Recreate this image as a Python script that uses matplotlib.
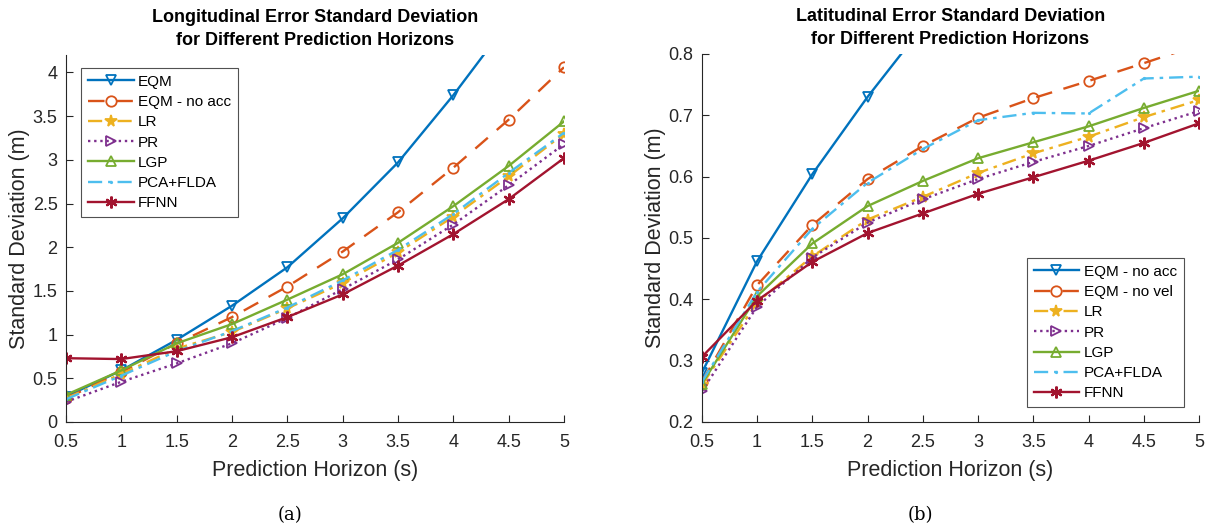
import matplotlib
matplotlib.use("Agg")
import matplotlib.pyplot as plt

horizons = [0.5, 1, 1.5, 2, 2.5, 3, 3.5, 4, 4.5, 5]

# Longitudinal (a)
lon_labels = ["EQM", "EQM - no acc", "LR", "PR", "LGP", "PCA+FLDA", "FFNN"]
lon_eqm = [0.29, 0.59, 0.94, 1.33, 1.77, 2.33, 2.97, 3.74, 4.58, 5.55]
lon_eqm_noacc = [0.27, 0.57, 0.90, 1.20, 1.55, 1.95, 2.40, 2.91, 3.46, 4.06]
lon_lr = [0.27, 0.55, 0.84, 1.03, 1.30, 1.59, 1.94, 2.35, 2.81, 3.30]
lon_pr = [0.23, 0.46, 0.67, 0.90, 1.19, 1.52, 1.86, 2.26, 2.71, 3.18]
lon_lgp = [0.31, 0.59, 0.90, 1.12, 1.40, 1.69, 2.05, 2.47, 2.93, 3.44]
lon_pca = [0.26, 0.53, 0.81, 1.04, 1.31, 1.62, 1.97, 2.38, 2.85, 3.31]
lon_ffnn = [0.73, 0.72, 0.81, 0.97, 1.20, 1.46, 1.79, 2.15, 2.55, 3.02]

# Latitudinal (b)
lat_labels = ["EQM - no acc", "EQM - no vel", "LR", "PR", "LGP", "PCA+FLDA", "FFNN"]
lat_eqm_noacc = [0.280, 0.462, 0.604, 0.730, 0.845, 0.96, 1.07, 1.18, 1.29, 1.40]
lat_eqm_novel = [0.265, 0.423, 0.521, 0.596, 0.650, 0.696, 0.728, 0.756, 0.785, 0.815]
lat_lr = [0.260, 0.395, 0.470, 0.530, 0.567, 0.606, 0.638, 0.665, 0.697, 0.725]
lat_pr = [0.250, 0.388, 0.468, 0.525, 0.563, 0.596, 0.624, 0.650, 0.679, 0.707]
lat_lgp = [0.262, 0.405, 0.491, 0.552, 0.593, 0.630, 0.656, 0.682, 0.712, 0.740]
lat_pca = [0.265, 0.412, 0.515, 0.590, 0.645, 0.692, 0.704, 0.703, 0.760, 0.763]
lat_ffnn = [0.306, 0.398, 0.461, 0.508, 0.540, 0.572, 0.599, 0.626, 0.655, 0.687]

colors = ["#0072BD", "#D95319", "#EDB120", "#7E2F8E", "#77AC30", "#4DBEEE", "#A2142F"]
styles = [
    dict(ls="-", marker="v", mfc="none", ms=7.5),
    dict(ls=(0, (7, 5)), marker="o", mfc="none", ms=7.5),
    dict(ls=(0, (6, 2.5, 1.5, 2.5)), marker="*", ms=8.5),
    dict(ls=(0, (1, 1.6)), marker=">", mfc="none", ms=7.5),
    dict(ls="-", marker="^", mfc="none", ms=7.5),
    dict(ls=(0, (6, 2.5, 1.5, 2.5)), marker=".", ms=2),
    dict(ls="-", marker=(6, 2, 0), ms=8.5, mew=1.6),
]

plt.rcParams["font.family"] = ["Liberation Sans", "DejaVu Sans"]
axcol = "#262626"

fig = plt.figure(figsize=(12.1, 5.28), dpi=100)
ax1 = fig.add_axes([0.0545, 0.2008, 0.4116, 0.695])
ax2 = fig.add_axes([0.580, 0.2008, 0.411, 0.697])

def draw(ax, series, labels, ylim, yticks, title):
    for s, lab, c, st in zip(series, labels, colors, styles):
        kw = dict(st)
        mew = kw.pop("mew", 1.3)
        ax.plot(horizons, s, color=c, lw=1.7, mec=c, mew=mew, label=lab,
                clip_on=True, **kw)
    ax.set_xlim(0.5, 5)
    ax.set_ylim(*ylim)
    ax.set_xticks(horizons)
    ax.set_xticklabels(["0.5", "1", "1.5", "2", "2.5", "3", "3.5", "4", "4.5", "5"])
    ax.set_yticks(yticks)
    ax.set_yticklabels([("%g" % v) for v in yticks])
    for sp in ["top", "right"]:
        ax.spines[sp].set_visible(False)
    for sp in ["left", "bottom"]:
        ax.spines[sp].set_color(axcol)
        ax.spines[sp].set_linewidth(0.8)
    ax.tick_params(direction="in", length=5, width=0.8, colors=axcol,
                   labelsize=13)
    ax.tick_params(axis="x", pad=9)
    ax.tick_params(axis="y", pad=6)
    ax.set_xlabel("Prediction Horizon (s)", fontsize=15.5, color=axcol, labelpad=6)
    ax.set_ylabel("Standard Deviation (m)", fontsize=15.5, color=axcol, labelpad=2)
    ax.set_title(title, fontsize=13, fontweight="bold", color="black",
                 linespacing=1.45, pad=7)

draw(ax1, [lon_eqm, lon_eqm_noacc, lon_lr, lon_pr, lon_lgp, lon_pca, lon_ffnn],
     lon_labels, (0, 4.2), [0, 0.5, 1, 1.5, 2, 2.5, 3, 3.5, 4],
     "Longitudinal Error Standard Deviation\nfor Different Prediction Horizons")
draw(ax2, [lat_eqm_noacc, lat_eqm_novel, lat_lr, lat_pr, lat_lgp, lat_pca, lat_ffnn],
     lat_labels, (0.2, 0.8), [0.2, 0.3, 0.4, 0.5, 0.6, 0.7, 0.8],
     "Latitudinal Error Standard Deviation\nfor Different Prediction Horizons")

leg_kw = dict(fontsize=11, frameon=True, fancybox=False, edgecolor=axcol,
              handlelength=3.0, handletextpad=0.3, borderpad=0.45,
              labelspacing=0.41, borderaxespad=0)
l1 = ax1.legend(loc="upper left", bbox_to_anchor=(0.03, 0.965), **leg_kw)
l1.get_frame().set_linewidth(0.8)
l2 = ax2.legend(loc="lower right", bbox_to_anchor=(0.9695, 0.04), **leg_kw)
l2.get_frame().set_linewidth(0.8)

fig.text(290 / 1210, 1 - 515 / 528, "(a)", ha="center", va="center",
         fontsize=13, family=["DejaVu Serif"])
fig.text(920 / 1210, 1 - 515 / 528, "(b)", ha="center", va="center",
         fontsize=13, family=["DejaVu Serif"])

fig.savefig("out.png", dpi=100)
